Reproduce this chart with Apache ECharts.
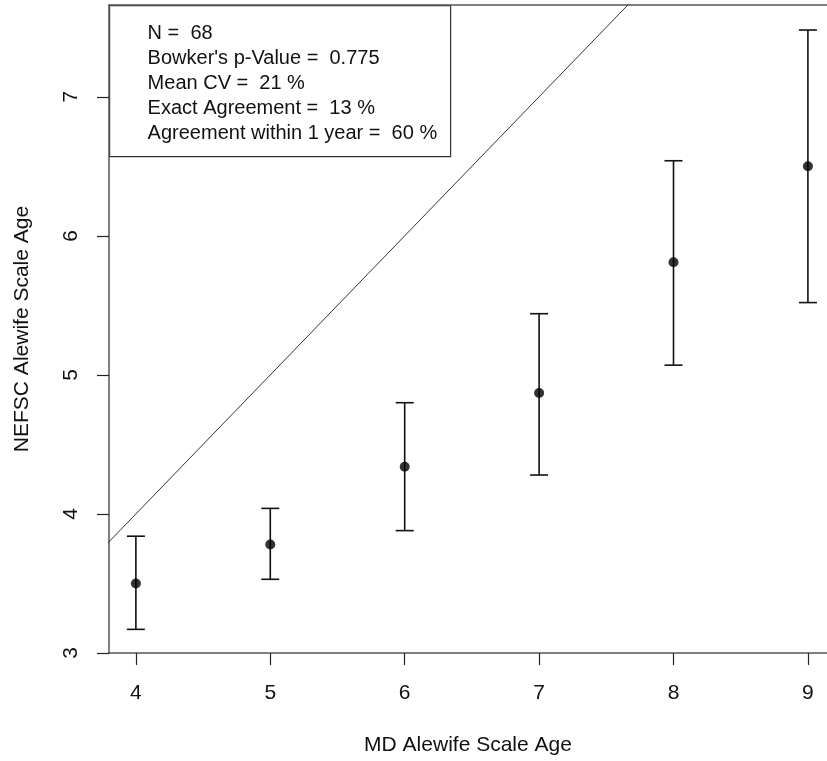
<!DOCTYPE html>
<html>
<head>
<meta charset="utf-8">
<script src="https://cdn.jsdelivr.net/npm/echarts@6/dist/echarts.min.js"></script>
<style>
html,body{margin:0;padding:0;background:#fff;}
#chart{width:827px;height:761px;}
</style>
</head>
<body>
<div id="chart"></div>
<script>
// Data
var mdAges = [4, 5, 6, 7, 8, 9];
var nefscMean = [3.50, 3.78, 4.34, 4.87, 5.81, 6.50];
var nefscLower = [3.17, 3.53, 3.88, 4.28, 5.07, 5.52];
var nefscUpper = [3.84, 4.04, 4.80, 5.44, 6.54, 7.48];
var xTicks = [4, 5, 6, 7, 8, 9];
var yTicks = [3, 4, 5, 6, 7];
var identityRange = [3, 10];
var statLines = [
  'N =  68',
  "Bowker's p-Value =  0.775",
  'Mean CV =  21 %',
  'Exact Agreement =  13 %',
  'Agreement within 1 year =  60 %'
];

var FONT = '"Liberation Sans", Arial, sans-serif';
var TXT = '#111';
var AX = '#555';
var X_MIN = 3.8, X_MAX = 9.142, Y_MIN = 3.0, Y_MAX = 7.66;

var chart = echarts.init(document.getElementById('chart'), null, {renderer: 'canvas'});

var pointData = mdAges.map(function (a, i) { return [a, nefscMean[i]]; });
var errData = mdAges.map(function (a, i) { return [a, nefscLower[i], nefscUpper[i]]; });
var idData = identityRange.map(function (v) { return [v, v]; });

var legendChildren = [{
  type: 'rect',
  shape: {x: 0, y: 0, width: 341, height: 151},
  style: {fill: '#fff', stroke: '#333', lineWidth: 1.2}
}];
statLines.forEach(function (s, i) {
  legendChildren.push({
    type: 'text',
    x: 38, y: 28 + i * 25,
    style: {text: s, font: '20px ' + FONT, fill: TXT, textVerticalAlign: 'middle', textAlign: 'left'}
  });
});

var option = {
  animation: false,
  backgroundColor: '#fff',
  grid: {left: 109, top: 5, right: 0, bottom: 105, show: false},
  xAxis: [{
    type: 'value', min: X_MIN, max: X_MAX,
    name: 'MD Alewife Scale Age', nameLocation: 'middle', nameGap: 82,
    nameTextStyle: {fontFamily: FONT, fontSize: 21, color: TXT},
    axisLine: {show: true, onZero: false, lineStyle: {color: AX, width: 1.5}},
    axisTick: {show: true, length: 12, customValues: xTicks, lineStyle: {color: '#222', width: 1.2}},
    axisLabel: {customValues: xTicks, margin: 30, fontFamily: FONT, fontSize: 21, color: TXT},
    splitLine: {show: false}
  }, {
    type: 'value', position: 'top', min: X_MIN, max: X_MAX,
    axisLine: {show: true, onZero: false, lineStyle: {color: AX, width: 1.5}},
    axisTick: {show: false}, axisLabel: {show: false}, splitLine: {show: false}
  }],
  yAxis: {
    type: 'value', min: Y_MIN, max: Y_MAX,
    name: 'NEFSC Alewife Scale Age', nameLocation: 'middle', nameGap: 76, nameRotate: 90,
    nameTextStyle: {fontFamily: FONT, fontSize: 21, color: TXT},
    axisLine: {show: true, onZero: false, lineStyle: {color: AX, width: 1.5}},
    axisTick: {show: true, length: 12, customValues: yTicks, lineStyle: {color: '#222', width: 1.2}},
    axisLabel: {customValues: yTicks, rotate: 90, margin: 27, fontFamily: FONT, fontSize: 21, color: TXT},
    splitLine: {show: false}
  },
  series: [
    {
      type: 'line', data: idData, showSymbol: false, clip: true,
      lineStyle: {color: '#333', width: 1}, silent: true, z: 1
    },
    {
      type: 'custom', data: errData, clip: true, z: 2,
      renderItem: function (params, api) {
        var x = api.value(0);
        var lo = api.coord([x, api.value(1)]);
        var hi = api.coord([x, api.value(2)]);
        var hw = 9;
        var st = {stroke: '#111', lineWidth: 1.6};
        return {type: 'group', children: [
          {type: 'line', shape: {x1: lo[0], y1: lo[1], x2: hi[0], y2: hi[1]}, style: st},
          {type: 'line', shape: {x1: lo[0] - hw, y1: lo[1], x2: lo[0] + hw, y2: lo[1]}, style: st},
          {type: 'line', shape: {x1: hi[0] - hw, y1: hi[1], x2: hi[0] + hw, y2: hi[1]}, style: st}
        ]};
      }
    },
    {
      type: 'scatter', data: pointData, symbol: 'circle', symbolSize: 10,
      itemStyle: {color: '#000'}, z: 3
    }
  ],
  graphic: [{
    type: 'group', left: 109, top: 5, z: 100,
    children: legendChildren
  }]
};
chart.setOption(option);
</script>
</body>
</html>
